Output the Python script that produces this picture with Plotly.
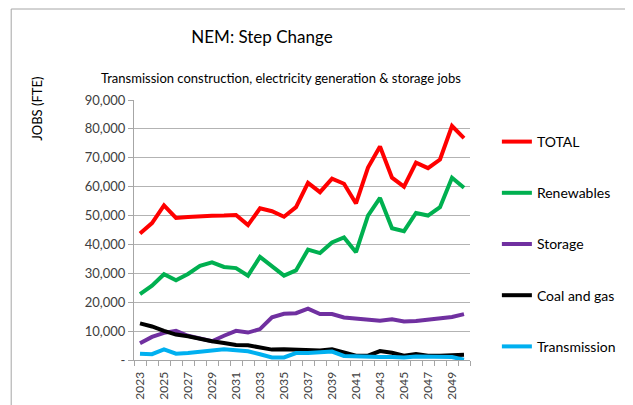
import plotly.graph_objects as go

# NEM Step Change - jobs by category (FTE)
years = list(range(2023, 2051))

total = [43800, 47400, 53500, 49200, 49500, 49800, 49900, 50000, 50200, 46700,
         52500, 51500, 49600, 52900, 61300, 58100, 62800, 61000, 54200, 66600,
         73900, 63100, 60000, 68300, 66400, 69400, 81000, 76800]
renewables = [22800, 25700, 29700, 27600, 29800, 32600, 33800, 32200, 31800, 29200,
              35700, 32400, 29200, 31000, 38200, 37000, 40700, 42400, 37300, 50000,
              56100, 45600, 44600, 50900, 50000, 52900, 63100, 59600]
storage = [5800, 8000, 9400, 10100, 8400, 7300, 6500, 8400, 10100, 9500,
           10700, 14800, 16000, 16200, 17800, 15900, 15900, 14700, 14300, 14000,
           13600, 14100, 13300, 13500, 14000, 14400, 14900, 15900]
coal_gas = [12700, 11600, 10100, 8800, 8200, 7300, 6500, 5900, 5200, 5100,
            4500, 3600, 3700, 3500, 3500, 3300, 3700, 2600, 1500, 1500,
            3100, 2500, 1500, 2100, 1500, 1500, 1800, 1800]
transmission = [2200, 2000, 3700, 2200, 2400, 2800, 3100, 3700, 3400, 3000,
                2000, 900, 900, 2400, 2400, 2500, 2900, 1400, 1200, 1200,
                1000, 1000, 900, 1200, 1100, 1100, 1000, 100]

series_names = ["TOTAL", "Renewables", "Storage", "Coal and gas", "Transmission"]
series_values = [total, renewables, storage, coal_gas, transmission]
colors = ["#FF0000", "#00B050", "#7030A0", "#000000", "#00B0F0"]

y_ticks = list(range(0, 90001, 10000))
y_labels = ["-"] + [f"{v:,}" for v in y_ticks[1:]]
x_ticks = years[::2]

FONT = "Lato, Calibri, Arial, sans-serif"

# the page body adds an 8px margin, so the figure is drawn 8px smaller
W, H = 625, 397

fig = go.Figure()
for name, vals, col in zip(series_names, series_values, colors):
    fig.add_trace(go.Scatter(x=years, y=vals, name=name, mode="lines",
                             line=dict(color=col, width=4), legendgroup=name))

fig.update_layout(
    width=W, height=H,
    margin=dict(l=126, r=157, t=92, b=45),
    paper_bgcolor="white", plot_bgcolor="white",
    font=dict(family=FONT, color="#404040"),
    title=dict(text="NEM: Step Change", x=254 / W, xanchor="center",
               y=1 - 29 / H, yanchor="middle",
               font=dict(size=17, color="#000000", family=FONT)),
    legend=dict(x=1.08, xanchor="left", y=0.9, yanchor="top",
                traceorder="grouped", tracegroupgap=30,
                font=dict(size=14, color="#000000", family=FONT),
                bgcolor="rgba(0,0,0,0)"),
    showlegend=True,
)

fig.update_xaxes(
    range=[2022.5, 2050.5], tickvals=x_ticks, ticktext=[str(y) for y in x_ticks],
    tickangle=-90, ticks="", ticklabelstandoff=6, showgrid=False, zeroline=False,
    showline=True, linecolor="#a6a6a6", linewidth=1, automargin=False,
    tickfont=dict(size=12, color="#404040"),
    minor=dict(ticks="outside", ticklen=5, tickcolor="#a6a6a6",
               tick0=2022.5, dtick=1, showgrid=False),
)
fig.update_yaxes(
    range=[0, 90000], tickvals=y_ticks, ticktext=y_labels,
    ticks="outside", ticklen=5, tickcolor="#a6a6a6", automargin=False,
    showgrid=True, gridcolor="#b3b3b3", gridwidth=1, zeroline=False,
    showline=True, linecolor="#a6a6a6", linewidth=1,
    tickfont=dict(size=13, color="#404040"),
)

fig.add_annotation(text="Transmission construction, electricity generation & storage jobs",
                   xref="paper", yref="paper", x=(284 - 134) / 342, y=(360 - 78) / 260,
                   xanchor="center", yanchor="middle", showarrow=False,
                   font=dict(size=13, color="#000000", family=FONT))
fig.add_annotation(text="JOBS (FTE)", xref="paper", yref="paper",
                   x=(35 - 134) / 342, y=(360 - 109) / 260, textangle=-90,
                   xanchor="center", yanchor="middle", showarrow=False,
                   font=dict(size=13, color="#000000", family=FONT))

# chart-area frame
fig.add_shape(type="rect", xref="paper", yref="paper",
              x0=(9 - 134) / 342, x1=1.6, y0=-0.5, y1=(360 - 9) / 260,
              line=dict(color="#a6a6a6", width=1), layer="below")

fig.write_html("out.html")
